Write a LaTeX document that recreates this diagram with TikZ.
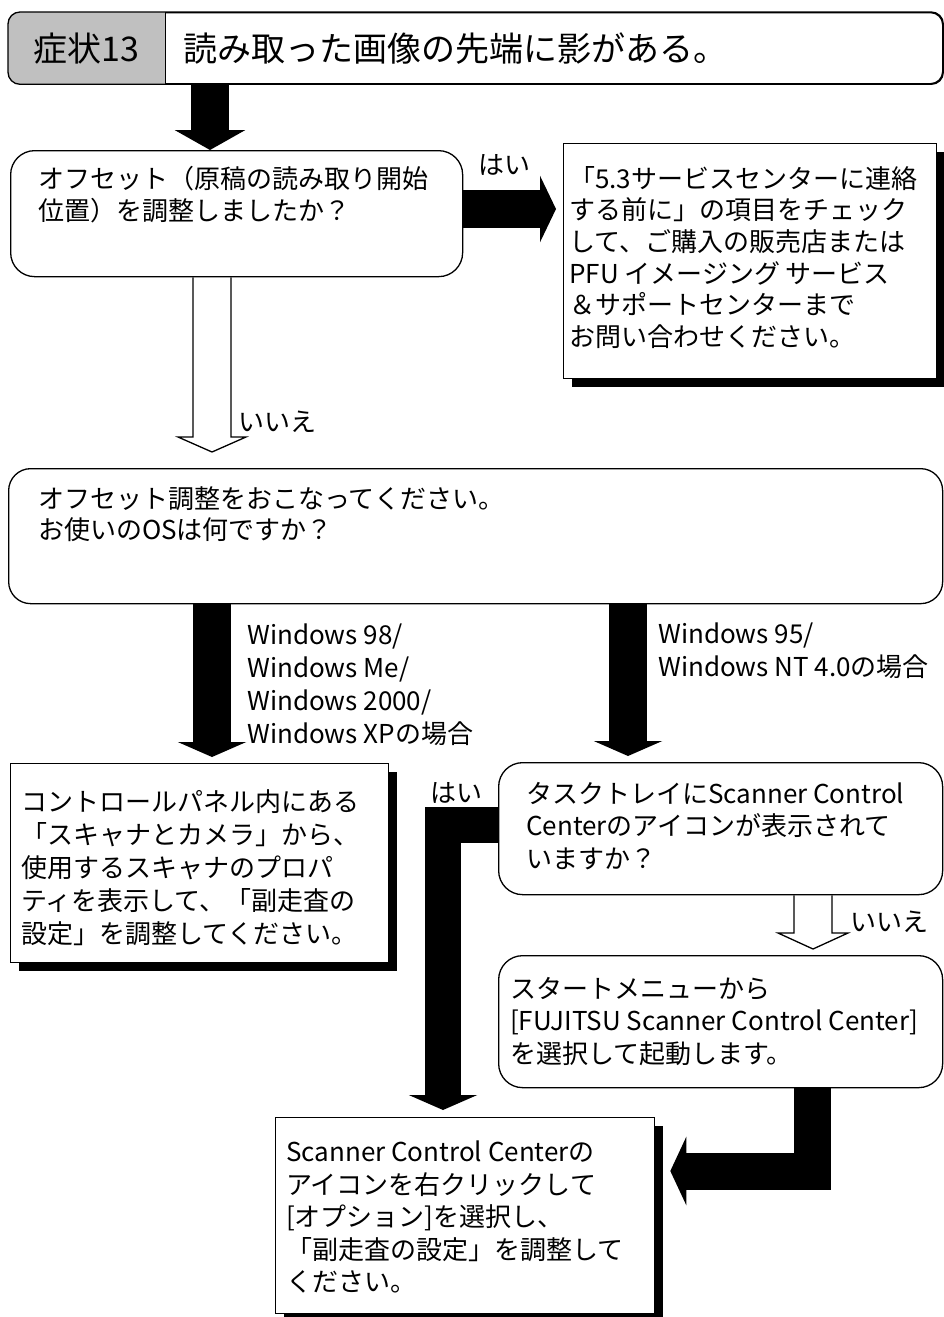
\documentclass[tikz,border=0pt]{standalone}
\usepackage{fontspec}
\setmainfont{Noto Sans CJK JP}
\usetikzlibrary{arrows.meta, positioning, calc, shadows}

\definecolor{symgray}{RGB}{192,192,192}

\begin{document}
\begin{tikzpicture}[x=1pt, y=-1pt,
        qbox/.style={draw, line width=1.3pt, rounded corners=24pt, anchor=north west, inner sep=0pt},
        abox/.style={draw, line width=1.3pt, fill=white, anchor=north west, inner sep=0pt,
            general shadow={fill=black, shadow xshift=8pt, shadow yshift=-8pt}},
        txt/.style={anchor=north west, align=left, inner sep=0pt, font=\fontsize{26}{32.5}\selectfont},
        lbl/.style={inner sep=0pt, font=\fontsize{26}{32.7}\selectfont},
        blkarrow/.style={line width=38pt, -{Triangle[length=15pt, width=68pt]}},
        hollow/.style={draw, line width=1.3pt, line join=miter}
    ]
        \useasboundingbox (0,0) rectangle (944,1317);

        % Title
        \node[draw, line width=1.3pt, rounded corners=12pt, anchor=north west, minimum width=934pt, minimum height=71pt] (title) at (8,12) {};
        \coordinate (div) at ($(title.north west)+(157,0)$);
        \fill[symgray] (div |- title.south) [rounded corners=12pt] -- (title.south west) -- (title.north west) [sharp corners] -- (div) -- cycle;
        \draw[line width=1.3pt, rounded corners=12pt] (title.north west) rectangle (title.south east);
        \draw[line width=1pt] (div) -- (div |- title.south);
        \node[font=\fontsize{34}{40}\selectfont] (sym) at ($(title.west)!0.5!(div |- title.west)$) {症状13};
        \node[font=\fontsize{34}{40}\selectfont, anchor=west] (symtext) at ($(div |- title.west)+(15,0)$) {読み取った画像の先端に影がある。};

        % Boxes
        \node[qbox, minimum width=452pt, minimum height=126pt] (q1) at (10,150) {};
        \node[abox, minimum width=373pt, minimum height=235pt] (r) at (563,143) {};
        \node[qbox, rounded corners=22pt, minimum width=934pt, minimum height=135pt] (q2) at (8,468) {};
        \node[abox, minimum width=378pt, minimum height=199pt] (l) at (10,763) {};
        \node[qbox, minimum width=444pt, minimum height=132pt] (q3) at (498,762) {};
        \node[qbox, minimum width=444pt, minimum height=132pt] (start) at (498,955) {};
        \node[abox, minimum width=379pt, minimum height=196pt] (s) at (275,1117) {};

        % Texts
        \node[txt] (q1t) at ($(q1.north west)+(28,16)$) {オフセット（原稿の読み取り開始\\位置）を調整しましたか？};
        \node[txt, font=\fontsize{26}{31.6}\selectfont] (rt) at ($(r.north west)+(6,23)$) {「5.3サービスセンターに連絡\\する前に」の項目をチェック\\して、ご購入の販売店または\\PFU イメージング サービス\\＆サポートセンターまで\\お問い合わせください。};
        \node[txt, font=\fontsize{26}{31}\selectfont] (q2t) at ($(q2.north west)+(30,18)$) {オフセット調整をおこなってください。\\お使いのOSは何ですか？};
        \node[txt, font=\fontsize{26}{33}\selectfont] (lt) at ($(l.north west)+(11,26)$) {コントロールパネル内にある\\「スキャナとカメラ」から、\\使用するスキャナのプロパ\\ティを表示して、「副走査の\\設定」を調整してください。};
        \node[txt] (q3t) at ($(q3.north west)+(28,20)$) {タスクトレイにScanner Control\\Centerのアイコンが表示されて\\いますか？};
        \node[txt] (startt) at ($(start.north west)+(12,22)$) {スタートメニューから\\{[}FUJITSU Scanner Control Center{]}\\を選択して起動します。};
        \node[txt] (st) at ($(s.north west)+(11,24)$) {Scanner Control Centerの\\アイコンを右クリックして\\{[}オプション{]}を選択し、\\「副走査の設定」を調整して\\ください。};

        % Arrows
        \draw[blkarrow, -{Triangle[length=20pt, width=70pt]}] (title.south -| 210,0) -- (q1.north -| 210,0);
        \draw[blkarrow, -{Triangle[length=16pt, width=66pt]}] (q1.east |- 0,209) -- ($(r.west |- 0,209)+(-7,0)$);
        \draw[hollow] let \p1=(q1.south -| 212,0), \p2=($(q2.north -| 212,0)+(0,-16)$) in
            (\x1-19pt,\y1) -- (\x1-19pt,\y2+15pt) -- (\x1-34pt,\y2+15pt) -- (\x2,\y2)
            -- (\x1+34pt,\y2+15pt) -- (\x1+19pt,\y2+15pt) -- (\x1+19pt,\y1);
        \draw[blkarrow] (q2.south -| 212,0) -- ($(l.north -| 212,0)+(0,-6)$);
        \draw[blkarrow] (q2.south -| 628,0) -- ($(q3.north -| 628,0)+(0,-6)$);
        \draw[blkarrow, line width=36pt, line join=miter] (q3.west |- 0,825) -| ($(s.north -| 443,0)+(0,-7)$);
        \draw[hollow] let \p1=(q3.south -| 813,0), \p2=($(start.north -| 813,0)+(0,-6)$) in
            (\x1-19pt,\y1) -- (\x1-19pt,\y2+16pt) -- (\x1-35pt,\y2+16pt) -- (\x2,\y2)
            -- (\x1+35pt,\y2+16pt) -- (\x1+19pt,\y2+16pt) -- (\x1+19pt,\y1);
        \draw[blkarrow, line width=37pt, line join=miter, -{Triangle[length=16pt, width=68pt]}] (start.south -| 812,0) |- ($(s.east |- 0,1171)+(15,0)$);

        % Labels
        \node[lbl] (yes1) at (504,165) {はい};
        \node[lbl, anchor=west] (no1) at (238,422) {いいえ};
        \node[lbl, anchor=north west, align=left] (win1) at (247,624) {Windows 98/\\Windows Me/\\Windows 2000/\\Windows XPの場合};
        \node[lbl, anchor=north west, align=left] (win2) at (658,623) {Windows 95/\\Windows NT 4.0の場合};
        \node[lbl] (yes2) at (456,793) {はい};
        \node[lbl, anchor=west] (no2) at (850,922) {いいえ};

    \end{tikzpicture}
\end{document}
